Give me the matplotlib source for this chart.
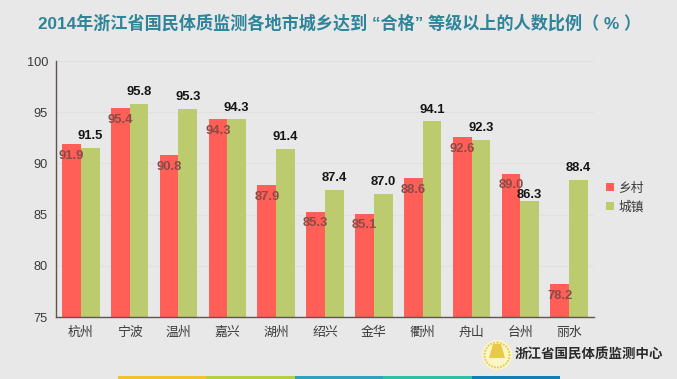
import matplotlib
matplotlib.use('Agg')
from matplotlib import pyplot as plt
from matplotlib.patches import Circle, Polygon, Rectangle
import numpy as np

plt.rcParams['font.family'] = ['Liberation Sans', 'Noto Sans CJK SC', 'DejaVu Sans']

cities = ['杭州', '宁波', '温州', '嘉兴', '湖州', '绍兴', '金华', '衢州', '舟山', '台州', '丽水']
rural = [91.9, 95.4, 90.8, 94.3, 87.9, 85.3, 85.1, 88.6, 92.6, 89.0, 78.2]
urban = [91.5, 95.8, 95.3, 94.3, 91.4, 87.4, 87.0, 94.1, 92.3, 86.3, 88.4]
y_ticks = [75, 80, 85, 90, 95, 100]
series_names = ['乡村', '城镇']
strip_colors = ['#EFC22E', '#B5CF3F', '#2FA3BE', '#2EBFA5', '#0F7FB5']

W, H = 677, 379
bg = '#E8E8E8'
red = '#FF5F57'
green = '#BBCB6D'

fig = plt.figure(figsize=(W / 100, H / 100), dpi=100, facecolor=bg)
ax = fig.add_axes([56.4 / W, 1 - 317 / H, 537.2 / W, 256 / H], facecolor=bg)

x = np.arange(len(cities))
bw = 0.383
ax.bar(x - bw / 2, rural, bw, color=red, label=series_names[0], zorder=2)
ax.bar(x + bw / 2, urban, bw, color=green, label=series_names[1], zorder=2)

for i in x:
    ax.annotate('%.1f' % rural[i], (i - bw / 2, rural[i]), xytext=(0, -8.5), textcoords='offset points',
                ha='center', va='center', fontsize=9.4, fontweight='bold', color='#8A4B48', zorder=3)
    # 台州 label sits closer to its bar in the original
    dy = 4.5 if cities[i] == '台州' else 8.5
    ax.annotate('%.1f' % urban[i], (i + bw / 2, urban[i]), xytext=(0, dy), textcoords='offset points',
                ha='center', va='center', fontsize=9.4, fontweight='bold', color='#151515', zorder=4)

ax.set_xlim(-0.5, len(cities) - 0.5)
ax.set_ylim(75, 100)
ax.set_yticks(y_ticks)
ax.set_xticks(x, cities)
ax.tick_params(axis='both', length=0, labelcolor='#3A3A3A')
ax.tick_params(axis='x', pad=7, labelsize=9.3)
ax.tick_params(axis='y', pad=6, labelsize=9.2)
ax.grid(axis='y', color='#E1E1E1', lw=0.8, zorder=0)
ax.set_axisbelow(True)
for side in ['top', 'right']:
    ax.spines[side].set_visible(False)
for side in ['left', 'bottom']:
    ax.spines[side].set_color('#5E5550')
    ax.spines[side].set_linewidth(1.0)

ax.legend(loc='center left', bbox_to_anchor=(606 / W, 1 - 198 / H), bbox_transform=fig.transFigure,
          frameon=False, fontsize=9.2, handlelength=0.65, handleheight=0.65, handletextpad=0.3,
          labelspacing=0.5, borderpad=0, borderaxespad=0, labelcolor='#3A3A3A')

fig.text(340 / W, 1 - 23 / H, '2014年浙江省国民体质监测各地市城乡达到 “合格” 等级以上的人数比例（ % ）',
         ha='center', va='center', fontsize=12.3, fontweight='bold', color='#2E8499')

# footer: logo and centre name
over = fig.add_axes([0, 0, 1, 1], facecolor='none')
over.set_xlim(0, W)
over.set_ylim(H, 0)
over.axis('off')
over.add_patch(Circle((497, 355), 15, fc='#FBF6C8', ec='none'))
over.add_patch(Circle((497, 355), 12.5, fc='none', ec='#E6CE5A', lw=1.4, ls=(0, (1, 0.6))))
over.add_patch(Polygon([(493, 344), (501, 344), (505, 358), (489, 358)], fc='#E8C94A', ec='none'))
over.text(515, 355, '浙江省国民体质监测中心', ha='left', va='center', fontsize=9.7,
          fontweight='bold', color='#2A2A2A')

# coloured strip along the bottom edge
for i, c in enumerate(strip_colors):
    over.add_patch(Rectangle((118 + i * 88.4, 376), 88.4, 3, fc=c, ec='none'))

fig.savefig('out.png', dpi=100, facecolor=bg)
